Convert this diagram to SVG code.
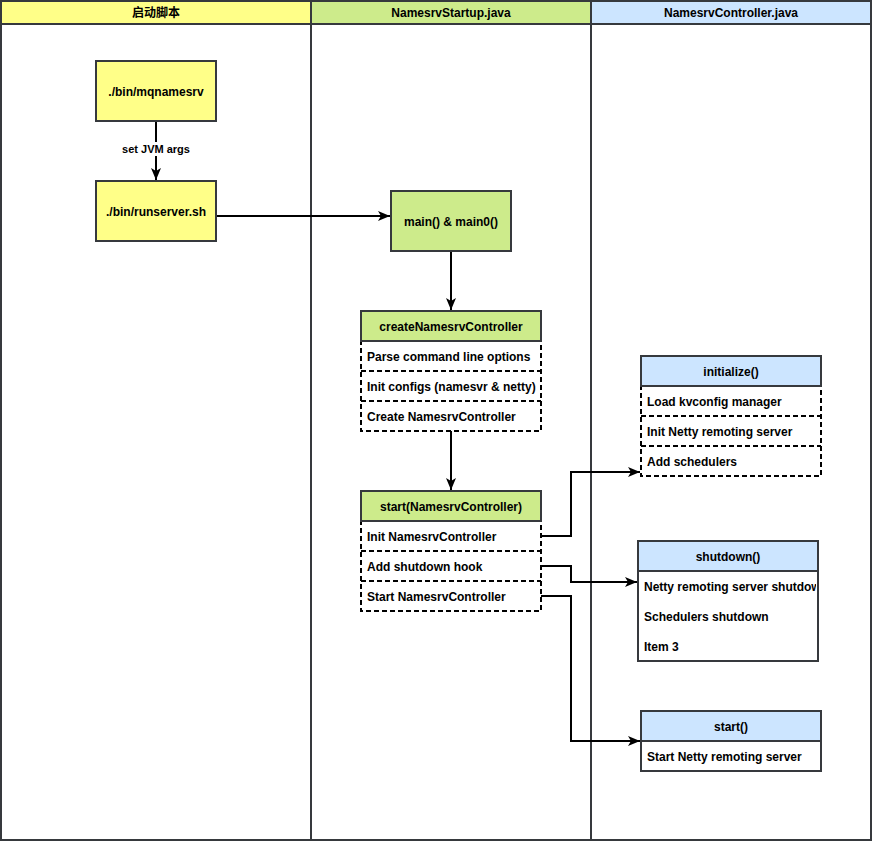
<svg xmlns="http://www.w3.org/2000/svg" width="873" height="842" viewBox="0 0 873 842">
<style>
text{font-family:"Liberation Sans",Arial,"Noto Sans CJK SC",sans-serif;font-size:12px;font-weight:bold;fill:#000}
.c{text-anchor:middle;dominant-baseline:central}
.l{dominant-baseline:central}
.lane{fill:#fff;stroke:#36393d;stroke-width:2}
.y{fill:#ffff88;stroke:#36393d;stroke-width:2}
.g{fill:#cdeb8b;stroke:#36393d;stroke-width:2}
.b{fill:#cce5ff;stroke:#36393d;stroke-width:2}
.body{fill:#fff;stroke:#000;stroke-width:2;stroke-dasharray:5 3}
.sep{fill:none;stroke:#000;stroke-width:2;stroke-dasharray:5 3}
.solid{fill:#fff;stroke:#36393d;stroke-width:2}
.e{fill:none;stroke:#000;stroke-width:2}
</style>
<defs>
<marker id="a" viewBox="0 0 12 10" refX="12" refY="5" markerWidth="12" markerHeight="10" markerUnits="userSpaceOnUse" orient="auto">
<path d="M0,0 L12,5 L0,10 L3,5 Z" fill="#000"/>
</marker>
<clipPath id="clipShut"><rect x="638" y="571" width="178" height="90"/></clipPath>
</defs>

<g id="lane1">
<rect class="lane" x="1" y="1" width="310" height="839"/>
<rect class="y" x="1" y="1" width="310" height="23"/>
<text class="c" x="156" y="13">启动脚本</text>
</g>
<g id="lane2">
<rect class="lane" x="311" y="1" width="280" height="839"/>
<rect class="g" x="311" y="1" width="280" height="23"/>
<text class="c" x="451" y="13">NamesrvStartup.java</text>
</g>
<g id="lane3">
<rect class="lane" x="591" y="1" width="280" height="839"/>
<rect class="b" x="591" y="1" width="280" height="23"/>
<text class="c" x="731" y="13">NamesrvController.java</text>
</g>

<g id="connectors">
<path class="e" d="M156,121 V180" marker-end="url(#a)"/>
<rect x="121" y="142" width="70" height="14" fill="#fff"/>
<text class="c" x="156" y="149" style="font-size:11px">set JVM args</text>
<path class="e" d="M216,216 H390" marker-end="url(#a)"/>
<path class="e" d="M451,251 V310" marker-end="url(#a)"/>
<path class="e" d="M451,431 V490" marker-end="url(#a)"/>
<path class="e" d="M541,536 H571 V472 H640" marker-end="url(#a)"/>
<path class="e" d="M541,566 H571 V582 H637" marker-end="url(#a)"/>
<path class="e" d="M541,596 H571 V741 H640" marker-end="url(#a)"/>
</g>

<g id="mqnamesrv">
<rect class="y" x="96" y="61" width="120" height="60"/>
<text class="c" x="156" y="92">./bin/mqnamesrv</text>
</g>
<g id="runserver">
<rect class="y" x="96" y="181" width="120" height="60"/>
<text class="c" x="156" y="212">./bin/runserver.sh</text>
</g>
<g id="main">
<rect class="g" x="391" y="191" width="120" height="60"/>
<text class="c" x="451" y="222">main() &amp; main0()</text>
</g>

<g id="createNamesrvController">
<rect class="body" x="361" y="341" width="180" height="90"/>
<path class="sep" d="M361,371 H541 M361,401 H541"/>
<rect class="g" x="361" y="311" width="180" height="30"/>
<text class="c" x="451" y="327">createNamesrvController</text>
<text class="l" x="367" y="357">Parse command line options</text>
<text class="l" x="367" y="387">Init configs (namesvr &amp; netty)</text>
<text class="l" x="367" y="417">Create NamesrvController</text>
</g>

<g id="startNamesrvController">
<rect class="body" x="361" y="521" width="180" height="90"/>
<path class="sep" d="M361,551 H541 M361,581 H541"/>
<rect class="g" x="361" y="491" width="180" height="30"/>
<text class="c" x="451" y="507">start(NamesrvController)</text>
<text class="l" x="367" y="537">Init NamesrvController</text>
<text class="l" x="367" y="567">Add shutdown hook</text>
<text class="l" x="367" y="597">Start NamesrvController</text>
</g>

<g id="initialize">
<rect class="body" x="641" y="386" width="180" height="90"/>
<path class="sep" d="M641,416 H821 M641,446 H821"/>
<rect class="b" x="641" y="356" width="180" height="30"/>
<text class="c" x="731" y="372">initialize()</text>
<text class="l" x="647" y="402">Load kvconfig manager</text>
<text class="l" x="647" y="432">Init Netty remoting server</text>
<text class="l" x="647" y="462">Add schedulers</text>
</g>

<g id="shutdown">
<rect class="solid" x="638" y="571" width="180" height="90"/>
<rect class="b" x="638" y="541" width="180" height="30"/>
<text class="c" x="728" y="557">shutdown()</text>
<g clip-path="url(#clipShut)">
<text class="l" x="644" y="587">Netty remoting server shutdown</text>
</g>
<text class="l" x="644" y="617">Schedulers shutdown</text>
<text class="l" x="644" y="647">Item 3</text>
</g>

<g id="start">
<rect class="solid" x="641" y="741" width="180" height="30"/>
<rect class="b" x="641" y="711" width="180" height="30"/>
<text class="c" x="731" y="727">start()</text>
<text class="l" x="647" y="757">Start Netty remoting server</text>
</g>
</svg>
